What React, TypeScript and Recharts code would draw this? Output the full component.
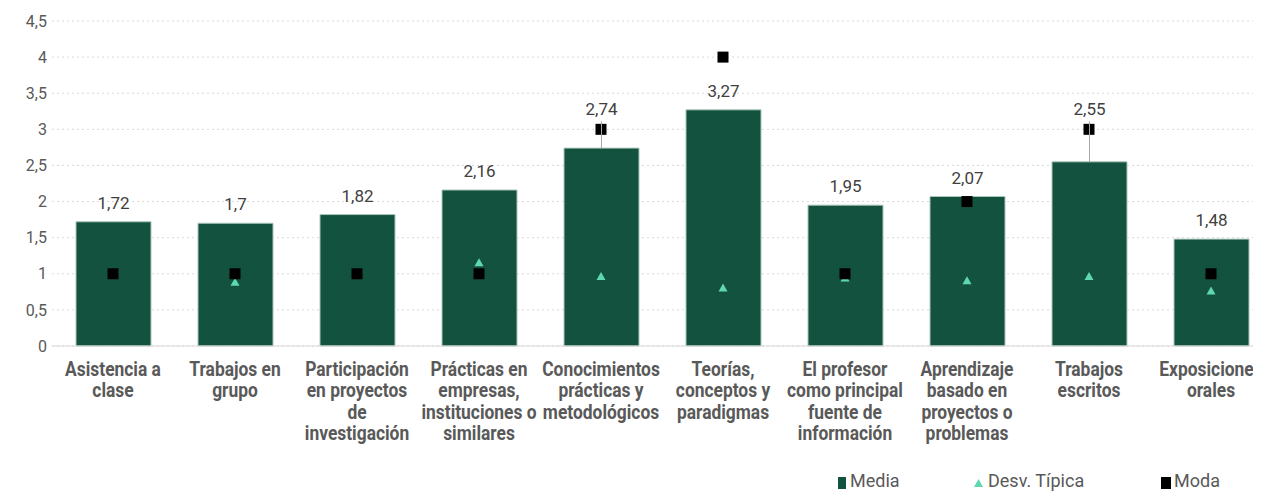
import React from 'react';
import { ComposedChart, Bar, Scatter, XAxis, YAxis, CartesianGrid, Legend, LabelList } from 'recharts';

const CATEGORIES = [
  'Asistencia a clase',
  'Trabajos en grupo',
  'Participación en proyectos de investigación',
  'Prácticas en empresas, instituciones o similares',
  'Conocimientos prácticas y metodológicos',
  'Teorías, conceptos y paradigmas',
  'El profesor como principal fuente de información',
  'Aprendizaje basado en proyectos o problemas',
  'Trabajos escritos',
  'Exposiciones orales',
];

const TICK_LINES = [
  ['Asistencia a', 'clase'],
  ['Trabajos en', 'grupo'],
  ['Participación', 'en proyectos', 'de', 'investigación'],
  ['Prácticas en', 'empresas,', 'instituciones o', 'similares'],
  ['Conocimientos', 'prácticas y', 'metodológicos'],
  ['Teorías,', 'conceptos y', 'paradigmas'],
  ['El profesor', 'como principal', 'fuente de', 'información'],
  ['Aprendizaje', 'basado en', 'proyectos o', 'problemas'],
  ['Trabajos', 'escritos'],
  ['Exposiciones', 'orales'],
];

const MEDIA = [1.72, 1.7, 1.82, 2.16, 2.74, 3.27, 1.95, 2.07, 2.55, 1.48];
const DESV = [1.0, 0.89, 1.0, 1.16, 0.97, 0.81, 0.95, 0.91, 0.97, 0.77];
const MODA = [1, 1, 1, 1, 3, 4, 1, 2, 3, 1];
const Y_TICKS = [0, 0.5, 1, 1.5, 2, 2.5, 3, 3.5, 4, 4.5];

const GREEN = '#13523f';
const MINT = '#5fd8b2';
const FONT = 'Roboto, "Noto Sans", sans-serif';

const data = CATEGORIES.map((name, i) => ({
  name,
  media: MEDIA[i],
  desv: DESV[i],
  moda: MODA[i],
}));

const fmt = (v: number) => String(v).replace('.', ',');

// bold labels look condensed in the original, so squeeze them horizontally
const CategoryTick = (props: any) => {
  const { x, y, index } = props;
  const lines = TICK_LINES[index] || [];
  return (
    <g transform={`translate(${x},${y}) scale(0.87,1)`}>
      <text x={0} y={0} textAnchor="middle" fill="#595959" fontSize={20} fontWeight={700} fontFamily={FONT}>
        {lines.map((l, i) => (
          <tspan key={i} x={0} dy={i === 0 ? 22 : 21.5}>{l}</tspan>
        ))}
      </text>
    </g>
  );
};

const MediaLabel = (props: any) => {
  const { x, y, width, height, value, index } = props;
  const cx = x + width / 2;
  const mode = MODA[index];
  const perUnit = height / value;
  const modeY = y + height - mode * perUnit;
  let baseline = y - 13;
  let lifted = false;
  if (mode > value && modeY > y - 35) {
    baseline = modeY - 14;
    lifted = true;
  }
  return (
    <g>
      {lifted && <line x1={cx} x2={cx} y1={y} y2={baseline + 6} stroke="#a6a6a6" strokeWidth={1} />}
      <text x={cx} y={baseline} textAnchor="middle" fill="#404040" fontSize={17} fontFamily={FONT}>
        {fmt(value)}
      </text>
    </g>
  );
};

const SquareShape = (props: any) => {
  const { cx, cy } = props;
  return <rect x={cx - 5.5} y={cy - 5.5} width={11} height={11} fill="#000" />;
};

const TriangleShape = (props: any) => {
  const { cx, cy } = props;
  return <path d={`M${cx - 4.5},${cy + 4} L${cx + 4.5},${cy + 4} L${cx},${cy - 4} Z`} fill={MINT} />;
};

const LegendContent = () => {
  const item: React.CSSProperties = { position: 'absolute', top: 0, display: 'flex', alignItems: 'center', height: 26 };
  const txt: React.CSSProperties = { fontSize: 18, lineHeight: '20px', color: '#595959', fontFamily: FONT, marginLeft: 4 };
  return (
    <div style={{ position: 'relative', height: 26, width: 1280 }}>
      <div style={{ ...item, left: 830 }}>
        <span style={{ width: 8, height: 12, background: GREEN, display: 'inline-block', marginTop: 4 }} />
        <span style={txt}>Media</span>
      </div>
      <div style={{ ...item, left: 966 }}>
        <svg width={9} height={9} style={{ marginTop: 5 }}>
          <path d="M0,8 L9,8 L4.5,0 Z" fill={MINT} />
        </svg>
        <span style={{ ...txt, marginLeft: 5 }}>Desv. Típica</span>
      </div>
      <div style={{ ...item, left: 1153 }}>
        <span style={{ width: 10, height: 12, background: '#000', display: 'inline-block', marginTop: 4 }} />
        <span style={{ ...txt, marginLeft: 3 }}>Moda</span>
      </div>
    </div>
  );
};

export default function App() {
  return (
    <div style={{ width: 1280, height: 500, fontFamily: FONT }}>
      <ComposedChart width={1280} height={500} data={data} margin={{ top: 13, right: 16, left: 0, bottom: 14 }}>
        <CartesianGrid vertical={false} stroke="#d9d9d9" strokeDasharray="2 3" />
        <XAxis
          dataKey="name"
          interval={0}
          height={122}
          tick={<CategoryTick />}
          tickLine={false}
          axisLine={{ stroke: '#d9d9d9' }}
        />
        <YAxis
          domain={[0, 4.5]}
          ticks={Y_TICKS}
          width={44}
          tickSize={0}
          tickMargin={5}
          tickLine={false}
          axisLine={false}
          tickFormatter={fmt}
          tick={{ fill: '#595959', fontSize: 16, fontFamily: FONT }}
        />
        <Legend verticalAlign="bottom" height={26} content={<LegendContent />} />
        <Bar dataKey="media" name="Media" fill={GREEN} stroke="#a9c6ba" strokeWidth={1} barSize={75} isAnimationActive={false}>
          <LabelList dataKey="media" content={<MediaLabel />} />
        </Bar>
        <Scatter dataKey="desv" name="Desv. Típica" shape={<TriangleShape />} isAnimationActive={false} />
        <Scatter dataKey="moda" name="Moda" shape={<SquareShape />} isAnimationActive={false} />
      </ComposedChart>
    </div>
  );
}
